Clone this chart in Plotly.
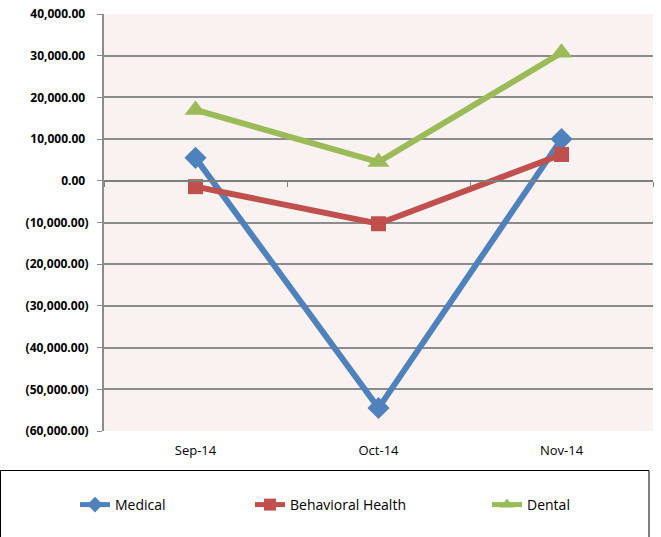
import plotly.graph_objects as go

months = ["Sep-14", "Oct-14", "Nov-14"]
medical = [5500, -54500, 10000]
behavioral = [-1400, -10300, 6300]
dental = [17000, 4500, 30700]

y_tickvals = [40000, 30000, 20000, 10000, 0, -10000, -20000, -30000, -40000, -50000, -60000]
y_ticktext = ["40,000.00\u2008", "30,000.00\u2008", "20,000.00\u2008", "10,000.00\u2008", "0.00\u2008",
              "(10,000.00)", "(20,000.00)", "(30,000.00)", "(40,000.00)",
              "(50,000.00)", "(60,000.00)"]

FONT = "Open Sans"
L, R, T, B = 104, 8, 14, 106
PW, PH = 661 - L - R, 537 - T - B


def px_x(p):
    return (p - L) / PW


def px_y(p):
    return (537 - B - p) / PH


fig = go.Figure()
fig.add_trace(go.Scatter(x=months, y=medical, name="Medical", mode="lines+markers",
                         line=dict(color="#4F81BD", width=6), legend="legend",
                         marker=dict(symbol="diamond", size=17, color="#4F81BD")))
fig.add_trace(go.Scatter(x=months, y=behavioral, name="Behavioral Health", mode="lines+markers",
                         line=dict(color="#C0504D", width=6), legend="legend2",
                         marker=dict(symbol="square", size=15, color="#C0504D")))
fig.add_trace(go.Scatter(x=months, y=dental, name="Dental", mode="lines+markers",
                         line=dict(color="#9BBB59", width=6), legend="legend3",
                         marker=dict(symbol="triangle-up", size=19, color="#9BBB59")))
# invisible helper trace so the zero-crossing axis knows the categories
fig.add_trace(go.Scatter(x=months, y=[0] * len(months), xaxis="x2", mode="markers",
                         marker=dict(opacity=0), showlegend=False, hoverinfo="skip"))

ymin, ymax = -60000, 40000
leg_common = dict(orientation="h", yanchor="middle", y=px_y(505), xanchor="left",
                  font=dict(family=FONT, size=14, color="#000000"),
                  bgcolor="rgba(0,0,0,0)", itemsizing="constant", borderwidth=0)
fig.update_layout(
    width=661, height=537,
    margin=dict(l=L, r=R, t=T, b=B, autoexpand=False),
    paper_bgcolor="white",
    plot_bgcolor="#FAF2F1",
    font=dict(family=FONT, size=13, color="#000000"),
    showlegend=True,
    legend=dict(leg_common, x=px_x(75)),
    legend2=dict(leg_common, x=px_x(250)),
    legend3=dict(leg_common, x=px_x(487)),
    xaxis=dict(type="category", categoryorder="array", categoryarray=months,
               range=[-0.5, 2.5], showgrid=False, showline=False, ticks="",
               tickfont=dict(family=FONT, size=13), zeroline=False,
               ticklabelstandoff=10),
    xaxis2=dict(type="category", categoryorder="array", categoryarray=months,
                range=[-0.5, 2.5], overlaying="x", anchor="free",
                position=(0 - ymin) / (ymax - ymin), side="bottom",
                showticklabels=False, showgrid=False, showline=True,
                linecolor="#7F7F7F", linewidth=2, ticks="outside", ticklen=5,
                tickcolor="#7F7F7F", tickwidth=1, tickson="boundaries"),
    yaxis=dict(range=[ymin, ymax], tickvals=y_tickvals, ticktext=y_ticktext,
               showgrid=True, gridcolor="#8C8C8C", gridwidth=1.5,
               zeroline=False, showline=True, linecolor="#8C8C8C", linewidth=2,
               ticks="outside", ticklen=5, tickcolor="#8C8C8C",
               tickfont=dict(family=FONT, size=12, color="#000000", weight="bold"),
               ticklabelstandoff=6),
)

# legend frame
fig.add_shape(type="rect", xref="paper", yref="paper",
              x0=px_x(0.5), x1=px_x(649), y0=px_y(545), y1=px_y(470.5),
              line=dict(color="#000000", width=1), fillcolor="rgba(0,0,0,0)", layer="below")

fig.write_html("out.html", config={"displayModeBar": False},
               post_script="document.body.style.margin='0px';")
